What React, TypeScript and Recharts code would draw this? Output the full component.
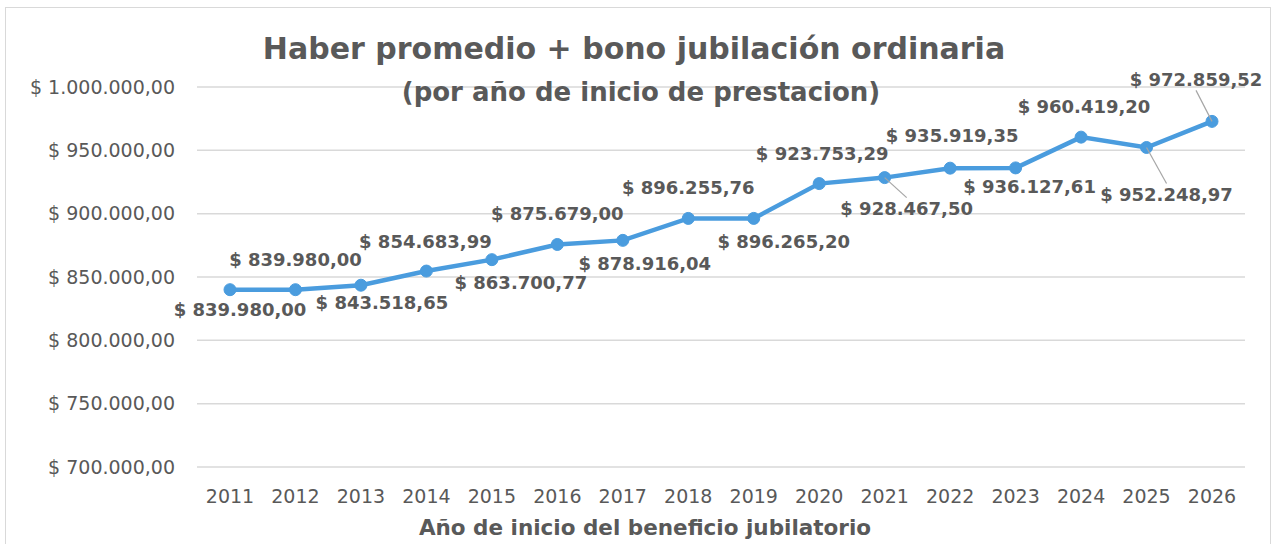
import React from 'react';
import { LineChart, Line, XAxis, YAxis, CartesianGrid, LabelList } from 'recharts';

const years = ['2011','2012','2013','2014','2015','2016','2017','2018','2019','2020','2021','2022','2023','2024','2025','2026'];
const haber = [839980.00, 839980.00, 843518.65, 854683.99, 863700.77, 875679.00, 878916.04, 896255.76, 896265.20, 923753.29, 928467.50, 935919.35, 936127.61, 960419.20, 952248.97, 972859.52];
const yTicks = [700000, 750000, 800000, 850000, 900000, 950000, 1000000];

// label placement (offset from the point, in px) and whether a leader line is drawn
const labelDx = [10, 0, 21, -1, 29, 0, 22, 0, 30, 3, 22, 2, 14, 3, 20, -16];
const labelDy = [20, -30, 17, -30, 23, -31, 23, -31, 23, -30, 31, -33, 19, -31, 47, -42];
const labelLeader = [false, false, false, false, false, false, false, false, false, false, true, false, false, false, true, true];

const data = years.map((y, i) => ({ year: y, value: haber[i] }));

const FONT = '"DejaVu Sans", sans-serif';
const GREY = '#595959';
const BLUE = '#4A9CDE';

function fmt(v: number): string {
  const fixed = v.toFixed(2);
  const [int, dec] = fixed.split('.');
  const withDots = int.replace(/\B(?=(\d{3})+(?!\d))/g, '.');
  return '$ ' + withDots + ',' + dec;
}

const ValueLabel = (props: any) => {
  const { x, y, index, value } = props;
  const dx = labelDx[index];
  const dy = labelDy[index];
  const lx = x + dx;
  const ly = y + dy;
  let leader = null;
  if (labelLeader[index]) {
    const ty = dy > 0 ? ly - 11 : ly + 11;
    leader = <line x1={x} y1={y} x2={lx} y2={ty} stroke="#A6A6A6" strokeWidth={1.2} />;
  }
  return (
    <g>
      {leader}
      <text x={lx} y={ly} textAnchor="middle" dominantBaseline="central" fill={GREY}
        style={{ fontFamily: FONT, fontWeight: 700, fontSize: 18 }}>{fmt(value)}</text>
    </g>
  );
};

export default function App() {
  return (
    <div style={{ position: 'absolute', left: 0, top: 0, width: 1283, height: 544, background: '#fff' }}>
      <svg width={1283} height={544} style={{ position: 'absolute', left: 0, top: 0 }}>
        <rect x={5.5} y={7.5} width={1265} height={545} fill="#fff" stroke="#D9D9D9" strokeWidth={1} />
      </svg>
      <div style={{ position: 'absolute', left: 0, top: 0 }}>
        <LineChart width={1283} height={544} data={data} margin={{ top: 87, right: 38, left: 0, bottom: 0 }}>
          <CartesianGrid vertical={false} stroke="#D9D9D9" strokeWidth={1.5} />
          <XAxis dataKey="year" height={77} axisLine={false} tickLine={false} tickMargin={17}
            padding={{ left: 33, right: 33 }}
            tick={{ fill: GREY, fontSize: 19, fontFamily: FONT }} interval={0} />
          <YAxis width={197} domain={[700000, 1000000]} ticks={yTicks} axisLine={false} tickLine={false}
            tickMargin={16} tickFormatter={fmt} tick={{ fill: GREY, fontSize: 19, fontFamily: FONT }} />
          <Line type="linear" dataKey="value" stroke={BLUE} strokeWidth={4.5} isAnimationActive={false}
            dot={{ r: 6, fill: BLUE, stroke: BLUE, strokeWidth: 1 }} activeDot={false}>
            <LabelList dataKey="value" content={ValueLabel} />
          </Line>
          <text x={634} y={48} textAnchor="middle" dominantBaseline="central" fill={GREY}
            style={{ fontFamily: FONT, fontWeight: 700, fontSize: 30 }}>Haber promedio + bono jubilación ordinaria</text>
          <text x={641} y={92} textAnchor="middle" dominantBaseline="central" fill={GREY}
            style={{ fontFamily: FONT, fontWeight: 700, fontSize: 26 }}>(por año de inicio de prestacion)</text>
          <text x={645} y={527} textAnchor="middle" dominantBaseline="central" fill={GREY}
            style={{ fontFamily: FONT, fontWeight: 700, fontSize: 21.5 }}>Año de inicio del beneficio jubilatorio</text>
        </LineChart>
      </div>
    </div>
  );
}
